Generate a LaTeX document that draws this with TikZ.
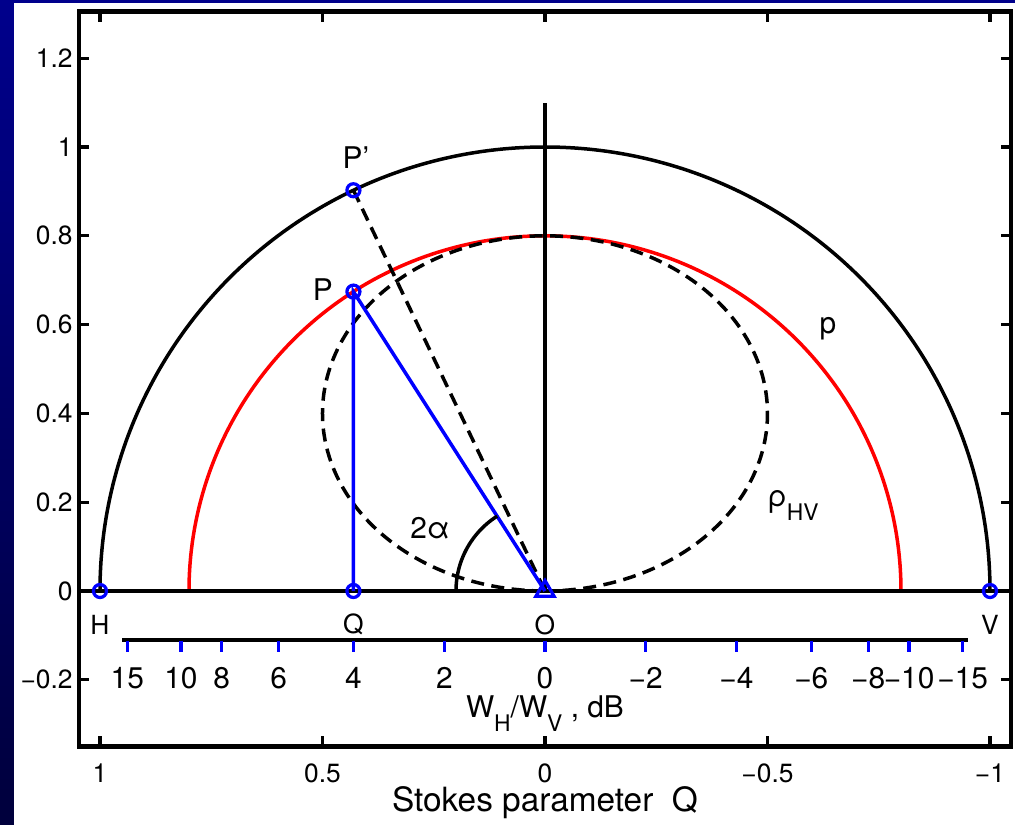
\documentclass[tikz,border=0pt]{standalone}
\usepackage{fontspec}
\setmainfont{TeX Gyre Heros}
\usetikzlibrary{shapes.geometric}
\newcommand{\lsub}[1]{\raisebox{-0.28cm}{\fontsize{13}{13}\selectfont #1}}

\begin{document}
\begin{tikzpicture}[
  x=-8.9cm, y=8.88cm,
  lbl/.style={font=\fontsize{15}{17}\selectfont, inner sep=0pt},
  biglbl/.style={font=\fontsize{17}{19}\selectfont, inner sep=0pt},
  frame/.style={line width=0.09cm},
  tick/.style={line width=0.065cm},
  curve/.style={line width=0.07cm},
  dashcurve/.style={curve, dash pattern=on 0.26cm off 0.15cm},
  ring/.style={circle, draw=blue, line width=0.065cm, minimum size=0.26cm, inner sep=0pt},
  tri/.style={regular polygon, regular polygon sides=3, draw=blue, line width=0.065cm, minimum size=0.42cm, inner sep=0pt},
]
% slide background
\fill[top color={rgb,255:red,0;green,0;blue,140}, bottom color={rgb,255:red,0;green,0;blue,60}]
  (1.2247,1.3311) rectangle (-1.0562,-0.5270);
\fill[white] (1.1933,1.3243) rectangle (-1.0562,-0.5270);

% points
\coordinate (pO) at (0,0);
\coordinate (pH) at (1,0);
\coordinate (pV) at (-1,0);
\coordinate (pQ) at (0.4305,0);
\coordinate (pP) at (0.4305,0.6743);
\coordinate (pPp) at (0.4305,0.9026);
\coordinate (top) at (0,1.1);
\coordinate (axl) at (1.047,0);
\coordinate (axr) at (-1.047,0);

% axes box and ticks
\draw[frame] (1.047,-0.35) rectangle (-1.047,1.305);
\foreach \v in {1,0.5,0,-0.5,-1} {
  \draw[tick] (\v,-0.35) -- ++(0,0.0225);
  \draw[tick] (\v,1.305) -- ++(0,-0.0225);
}
\foreach \v in {-0.2,0,0.2,0.4,0.6,0.8,1,1.2} {
  \draw[tick] (1.047,\v) -- ++(-0.0225,0);
  \draw[tick] (-1.047,\v) -- ++(0.0225,0);
}
\foreach \v/\t [count=\i] in {-0.2/−0.2,0/0,0.2/0.2,0.4/0.4,0.6/0.6,0.8/0.8,1/1,1.2/1.2}
  \node[lbl, anchor=east] (yl\i) at (1.0607,\v) {\t};
\foreach \v/\t [count=\i] in {1/1,0.5/0.5,0/0,-0.5/−0.5,-1/−1}
  \node[lbl] (xl\i) at (\v,-0.41) {\t};
\node[font=\fontsize{19}{21}\selectfont, inner sep=0pt] (xlab) at (0,-0.477) {Stokes parameter\ \ Q};

% curves
\draw[curve] plot[domain=0:180, samples=91, smooth] ({cos(\x)},{sin(\x)});
\draw[curve, red] plot[domain=0:180, samples=91, smooth] ({0.8*cos(\x)},{0.8*sin(\x)});
\draw[dashcurve] plot[domain=-90:270, samples=121, smooth] ({0.5*cos(\x)},{0.4+0.4*sin(\x)});
\draw[curve] (axl) -- (axr);
\draw[curve] (pO) -- (top);
\draw[dashcurve] (pPp) -- (pO);
\draw[curve, blue] (pQ) -- (pP) -- (pO);
\draw[curve] plot[domain=0:57.45, samples=30, smooth] ({0.2*cos(\x)},{0.2*sin(\x)});

% dB scale
\draw[curve] (0.95,-0.110) coordinate (dbl) -- (-0.95,-0.110) coordinate (dbr);
\foreach \db/\t [count=\i] in {15/15,10/10,8/8,6/6,4/4,2/2,0/0,-2/−2,-4/−4,-6/−6,-8/−8,-10/−10,-15/−15} {
  \pgfmathsetmacro\r{10^(\db/10)}
  \pgfmathsetmacro\q{(\r-1)/(\r+1)}
  \draw[tick, blue] (\q,-0.112) -- (\q,-0.138);
  \node[biglbl] (db\i) at (\q,-0.196) {\t};
}
\node[biglbl, anchor=base] (wlab) at (0,-0.286) {W\lsub{H}/W\lsub{V} , dB};

% markers
\node[ring] (H) at (pH) {};
\node[ring] (V) at (pV) {};
\node[ring] (Q) at (pQ) {};
\node[ring] (P) at (pP) {};
\node[ring] (Pp) at (pPp) {};
\node[tri] (O) at (pO) {};

% labels
\node[lbl] (Hl) at (1,-0.076) {H};
\node[lbl] (Ql) at (0.4305,-0.076) {Q};
\node[lbl] (Ol) at (0,-0.076) {O};
\node[lbl] (Vl) at (-1,-0.076) {V};
\node[biglbl] (Pl) at (0.499,0.678) {P};
\node[biglbl] (Ppl) at (0.425,0.975) {P'};
\node[biglbl] (pl) at (-0.636,0.59) {p};
\node[biglbl, anchor=base west] (rhol) at (-0.5,0.19) {ρ\lsub{HV}};
\node[biglbl] (al) at (0.258,0.142) {2α};
\end{tikzpicture}
\end{document}
